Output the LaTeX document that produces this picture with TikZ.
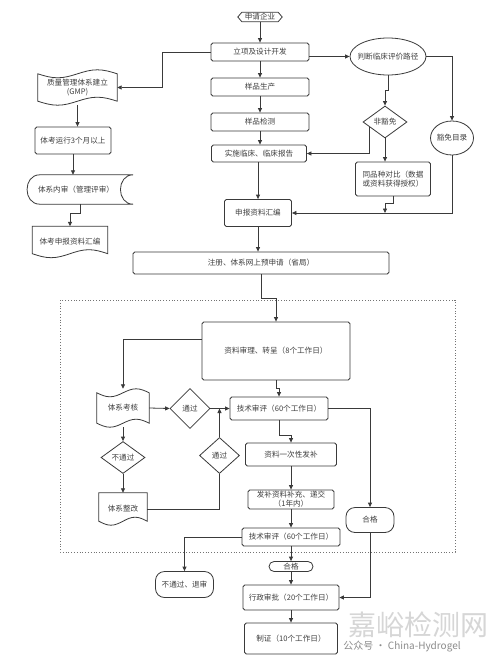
\documentclass[tikz,border=0pt]{standalone}
\usepackage{fontspec}
\setmainfont{Noto Sans CJK SC}
\usetikzlibrary{shapes.geometric,arrows.meta,calc}
\definecolor{lc}{HTML}{3A3A3A}
\definecolor{tc}{HTML}{404040}
\newcommand{\fsz}{\fontsize{7.6}{9}\selectfont}
\newcommand{\tapeoutline}[2]{%
  \draw[outline] let \p1=(#1.north west), \p2=(#1.south east), \n1={(\x2-\x1)/4} in
    (\x1,\y1-#2) sin (\x1+\n1,\y1-2*#2) cos (\x1+2*\n1,\y1-#2) sin (\x1+3*\n1,\y1) cos (\x2,\y1-#2)
    -- (\x2,\y2+#2) sin (\x2-\n1,\y2+2*#2) cos (\x2-2*\n1,\y2+#2) sin (\x2-3*\n1,\y2) cos (\x1,\y2+#2) -- cycle;}
\newcommand{\docoutline}[2]{%
  \draw[outline] let \p1=(#1.north west), \p2=(#1.south east), \n1={(\x2-\x1)/4} in
    (\x1,\y1) -- (\x2,\y1)
    -- (\x2,\y2+#2) sin (\x2-\n1,\y2+2*#2) cos (\x2-2*\n1,\y2+#2) sin (\x2-3*\n1,\y2) cos (\x1,\y2+#2) -- cycle;}
\newcommand{\storedoutline}[1]{%
  \draw[outline] let \p1=(#1.north west), \p2=(#1.south east) in
    (\x1+13pt,\y1) -- (\x2,\y1) .. controls (\x2-17pt,\y1) and (\x2-17pt,\y2) .. (\x2,\y2)
    -- (\x1+13pt,\y2) .. controls (\x1-4pt,\y2) and (\x1-4pt,\y1) .. (\x1+13pt,\y1) -- cycle;}
\newcommand{\hexoutline}[1]{%
  \draw[outline] (#1.west) -- ($(#1.north west)+(4,0)$) -- ($(#1.north east)+(-4,0)$) -- (#1.east)
    -- ($(#1.south east)+(-4,0)$) -- ($(#1.south west)+(4,0)$) -- cycle;}

\begin{document}
\begin{tikzpicture}[x=1pt,y=-1pt,
  base/.style={font=\fsz, text=tc, align=center, inner sep=0pt},
  box/.style 2 args={base, draw=lc, line width=0.8pt, rounded corners=1.8pt, minimum width=#1pt, minimum height=#2pt},
  term/.style 2 args={base, draw=lc, line width=0.8pt, rounded corners=9pt, minimum width=#1pt, minimum height=#2pt},
  ghost/.style 2 args={base, minimum width=#1pt, minimum height=#2pt},
  dia/.style 2 args={base, draw=lc, line width=0.8pt, diamond, minimum width=#1pt, minimum height=#2pt},
  ell/.style 2 args={base, draw=lc, line width=0.8pt, ellipse, minimum width=#1pt, minimum height=#2pt},
  outline/.style={draw=lc, line width=0.8pt},
  ln/.style={draw=lc, line width=0.8pt},
  arr/.style={ln, -{Triangle[length=4.5pt,width=4pt]}},
  frame/.style={draw=black!55, line width=0.8pt, dotted},
]
\fill[white] (0,0) rectangle (500,666);
\useasboundingbox (0,0) rectangle (500,666);

% dotted frame
\draw[frame] (60,300) rectangle (455,552);

% top column
\node[ghost={44}{9}] (sq) at (260,17) {申请企业};
\hexoutline{sq}
\node[box={98}{18}] (lixiang) at (260,52) {立项及设计开发};
\node[box={98}{18}] (shengchan) at (260,87) {样品生产};
\node[box={98}{18}] (jiance) at (260,122) {样品检测};
\node[box={95}{17}] (linchuang) at (259,153.5) {实施临床、临床报告};
\node[box={67}{27}] (huibian) at (258,213) {申报资料汇编};
\node[box={256}{22}] (zhuce) at (261,263) {注册、体系网上预申请（省局）};

% left column
\node[ghost={79}{35}] (gmp) at (77.5,87.5) {质量管理体系建立\\(GMP)};
\tapeoutline{gmp}{4pt}
\node[box={76}{27}] (tiyun) at (73,140.5) {体考运行3个月以上};
\node[ghost={106}{29}] (neishen) at (80,189.5) {\hspace*{-8pt}体系内审（管理评审）};
\storedoutline{neishen}
\node[ghost={75}{31}] (tkhb) at (70,242) {体考申报资料汇编};
\docoutline{tkhb}{4pt}

% right column
\node[ell={76}{37}, inner xsep=-10pt] (panduan) at (388,56.5) {判断临床评价路径};
\node[ell={43}{34}, inner xsep=-3pt] (huomian) at (452,138) {豁免目录};
\node[dia={44}{32}] (feihm) at (385,122) {非豁免};
\node[box={75}{34}] (tpz) at (393,179) {同品种对比（数据\\或资料获得授权）};

% review section
\node[box={148}{58}] (shenli) at (276,351) {资料审理、转呈（8个工作日）};
\node[ghost={52}{38}] (tixikh) at (123,408) {体系考核};
\tapeoutline{tixikh}{4pt}
\node[dia={40}{40}] (tg1) at (190,408.5) {通过};
\node[box={98}{23}] (js1) at (279,408.5) {技术审评（60个工作日）};
\node[dia={44}{32}] (btg) at (123,457.5) {不通过};
\node[ghost={48}{32}] (zhenggai) at (123,509) {体系整改};
\docoutline{zhenggai}{4pt}
\node[dia={40}{36}] (tg2) at (219.5,455.5) {通过};
\node[box={91}{23}] (bu1) at (291,454.5) {资料一次性发补};
\node[box={86}{19}] (bu2) at (291,499.5) {发补资料补充、递交\\（1年内）};
\node[box={98}{18}] (js2) at (291,537) {技术审评（60个工作日）};
\node[term={48}{25}] (hege1) at (370,520) {合格};
\node[term={58}{26}] (tuishen) at (184.5,584.5) {不通过、退审};
\node[term={44}{10}, rounded corners=5pt] (hege2) at (291,566.5) {合格};
\node[box={96}{25}] (xzsp) at (291,597.5) {行政审批（20个工作日）};
\node[box={93}{31}] (zhizheng) at (291,638.5) {制证（10个工作日）};

% connectors: top
\draw[arr] (sq.south) -- (lixiang.north);
\draw[arr] (lixiang.south) -- (shengchan.north);
\draw[arr] (shengchan.south) -- (jiance.north);
\draw[arr] (jiance.south) -- (jiance.south |- linchuang.north);
\draw[arr] (huibian.north |- linchuang.south) -- (huibian.north);
\draw[arr] (huibian.south) -- (huibian.south |- zhuce.north);
\draw[arr] (lixiang.west) -- ++(-48,0) |- (gmp.east);
\draw[arr] (gmp.south) -- (gmp.south |- tiyun.north);
\draw[arr] (tiyun.south) -- (tiyun.south |- neishen.north);
\draw[arr] (neishen.south) -- ++(0,9) -| (tkhb.north);
\draw[arr] (lixiang.east |- panduan.west) -- (panduan.west);
\draw[arr] (panduan.east) -| (huomian.north);
\draw[arr] (panduan.south) -- ++(0,15) -| (feihm.north);
\draw[arr] ($(feihm.west)!0.3!(feihm.south)$) |- (linchuang.east);
\draw[arr] (feihm.south) -- (feihm.south |- tpz.north);
\draw[arr] (huomian.south) |- (huibian.east);
\draw[arr] (tpz.south) -- ++(0,7) -| (feihm.south |- huibian.east);

% connectors: review
\draw[arr] (zhuce.south) -- ++(0,24) -| (shenli.north);
\draw[arr] ($(shenli.north west)!0.31!(shenli.south west)$) -| (tixikh.north);
\draw[arr] (tixikh.east) -- (tg1.west);
\draw[arr] (tg1.east) -- (js1.west);
\draw[arr] (shenli.south) -- ++(0,8) -| (js1.north);
\draw[arr] (js1.east) -| (hege1.north);
\draw[arr] (js1.south) -- ++(0,15) -| (bu1.north);
\draw[arr] (bu1.south) -- (bu2.north);
\draw[arr] (bu2.south) -- (js2.north);
\draw[arr] (js2.west) -| (tuishen.north);
\draw[arr] (js2.south) -- (hege2.north);
\draw[arr] (hege2.south) -- (xzsp.north);
\draw[arr] (xzsp.south) -- (zhizheng.north);
\draw[arr] (hege1.south) |- (xzsp.east);
\draw[arr] (tixikh.south) -- (btg.north);
\draw[arr] (btg.south) -- (zhenggai.north);
\draw[ln] (zhenggai.east) -| (tg2.south);
\draw[arr] (tg2.north) -- (tg2.north |- js1.west);

% watermark
\node[text=black!16, font=\fontsize{28}{30}\selectfont, inner sep=0] (wm1) at (418,625) {嘉峪检测网};
\node[text=black!45, font=\fontsize{10}{12}\selectfont, inner sep=0] (wm2) at (402,647) {公众号 · China-Hydrogel};
\end{tikzpicture}
\end{document}
